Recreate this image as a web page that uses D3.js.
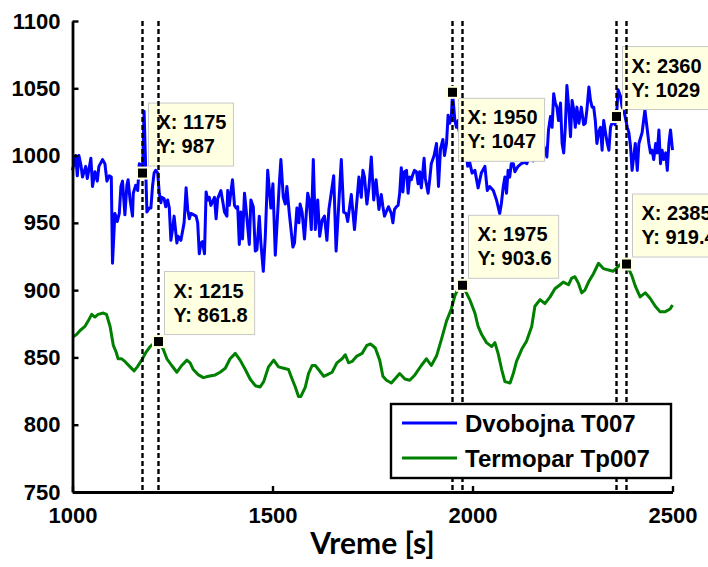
<!DOCTYPE html>
<html>
<head>
<meta charset="utf-8">
<script src="https://d3js.org/d3.v7.min.js"></script>
<style>
    html, body { margin: 0; padding: 0; background: #fff; }
    svg { display: block; }
</style>
</head>
<body>
<div id="chart"></div>
<script>
"use strict";

// Time [s] / temperature pairs
const dvobojnaT007 = [
    [1000, 989], [1008, 1000], [1012, 985], [1016, 1000], [1021, 993], [1025, 984], [1033, 992], [1037, 983],
    [1046, 998], [1050, 977], [1056, 988], [1062, 981], [1066, 992], [1075, 997], [1081, 994], [1086, 981],
    [1092, 985], [1097, 984], [1100, 920], [1106, 957], [1112, 951], [1117, 957], [1121, 977], [1125, 981],
    [1131, 956], [1136, 978], [1139, 982], [1144, 967], [1150, 955], [1152, 972], [1158, 978], [1163, 974],
    [1167, 994], [1171, 993], [1175, 987], [1179, 1033], [1186, 958], [1192, 961], [1196, 961], [1200, 977],
    [1204, 987], [1208, 989], [1213, 987], [1217, 972], [1221, 965], [1223, 969], [1229, 968], [1233, 962],
    [1238, 967], [1242, 961], [1246, 937], [1250, 945], [1254, 955], [1261, 935], [1264, 940], [1271, 937],
    [1279, 950], [1284, 976], [1288, 960], [1292, 953], [1296, 957], [1309, 955], [1313, 950], [1317, 927],
    [1321, 935], [1325, 936], [1330, 927], [1334, 973], [1338, 967], [1342, 969], [1346, 963], [1355, 969],
    [1359, 953], [1363, 968], [1371, 974], [1375, 967], [1380, 958], [1386, 955], [1388, 974], [1392, 963],
    [1396, 973], [1400, 982], [1405, 963], [1409, 961], [1413, 962], [1417, 934], [1421, 958], [1425, 938],
    [1430, 972], [1434, 960], [1442, 934], [1446, 967], [1452, 962], [1457, 929], [1461, 930], [1467, 955],
    [1471, 935], [1477, 914], [1482, 940], [1488, 989], [1496, 961], [1501, 979], [1507, 926], [1517, 979],
    [1521, 997], [1527, 969], [1532, 964], [1536, 977], [1542, 957], [1551, 932], [1555, 935], [1561, 961],
    [1566, 950], [1569, 964], [1574, 958], [1580, 938], [1588, 972], [1592, 967], [1597, 945], [1602, 997],
    [1607, 945], [1613, 967], [1618, 940], [1624, 952], [1630, 955], [1636, 937], [1641, 960], [1653, 985],
    [1659, 929], [1672, 997], [1678, 958], [1684, 957], [1688, 951], [1697, 971], [1705, 945], [1716, 984],
    [1722, 969], [1726, 989], [1730, 984], [1736, 964], [1741, 976], [1747, 999], [1753, 967], [1759, 982],
    [1766, 960], [1772, 971], [1776, 962], [1780, 955], [1784, 958], [1790, 962], [1797, 957], [1801, 950],
    [1805, 960], [1810, 962], [1814, 963], [1818, 972], [1822, 991], [1826, 973], [1830, 988], [1835, 989],
    [1839, 972], [1843, 984], [1847, 982], [1851, 986], [1855, 989], [1860, 988], [1864, 979], [1868, 988],
    [1872, 976], [1879, 998], [1882, 983], [1889, 972], [1893, 982], [1897, 994], [1904, 1000], [1910, 1009],
    [1915, 977], [1920, 1005], [1926, 1012], [1930, 1000], [1935, 1009], [1939, 1030], [1943, 1024], [1947, 1028],
    [1950, 1047], [1956, 1026], [1960, 1021], [1964, 1026], [1966, 1019], [1972, 1012], [1978, 998], [1984, 1004],
    [1988, 992], [1993, 995], [1999, 987], [2006, 989], [2014, 976], [2022, 987], [2031, 992], [2037, 974],
    [2043, 977], [2052, 974], [2060, 967], [2068, 957], [2072, 964], [2077, 977], [2081, 984], [2085, 972],
    [2089, 989], [2093, 984], [2097, 994], [2102, 994], [2106, 988], [2114, 992], [2122, 994], [2131, 995],
    [2136, 994], [2145, 1002], [2152, 996], [2160, 1004], [2168, 998], [2174, 1010], [2178, 1007], [2182, 1004],
    [2186, 999], [2190, 1019], [2195, 1029], [2199, 1021], [2203, 1046], [2207, 1039], [2211, 1036], [2215, 1026],
    [2220, 1039], [2224, 1009], [2228, 1002], [2232, 1021], [2236, 1052], [2241, 1034], [2245, 1014], [2249, 1041],
    [2253, 1034], [2257, 1021], [2261, 1036], [2266, 1024], [2272, 1036], [2278, 1023], [2282, 1024], [2286, 1034],
    [2291, 1051], [2295, 1041], [2299, 1036], [2303, 1036], [2307, 1026], [2311, 1009], [2316, 1018], [2320, 1021],
    [2324, 1004], [2328, 1026], [2332, 1018], [2337, 1009], [2341, 1004], [2345, 1021], [2351, 1026], [2356, 1023],
    [2360, 1029], [2364, 1049], [2370, 1044], [2374, 1036], [2378, 1034], [2387, 1021], [2391, 1017], [2395, 1007],
    [2399, 989], [2403, 999], [2407, 1009], [2412, 989], [2416, 1009], [2424, 1017], [2431, 1034], [2437, 1019],
    [2441, 1009], [2445, 1002], [2449, 1004], [2453, 997], [2458, 1009], [2462, 1002], [2466, 1019], [2470, 994],
    [2474, 1004], [2478, 997], [2483, 1002], [2487, 989], [2491, 1009], [2495, 1019], [2500, 1004]
];

const termoparTp007 = [
    [1000, 865], [1010, 867], [1019, 870], [1031, 873], [1039, 877], [1048, 882], [1056, 880], [1064, 882],
    [1077, 883], [1085, 882], [1094, 873], [1102, 859], [1109, 854], [1114, 849], [1123, 849], [1131, 847],
    [1144, 843], [1154, 840], [1162, 843], [1173, 848], [1184, 854], [1194, 858], [1202, 860], [1215, 861.8],
    [1227, 856], [1236, 849], [1248, 844], [1261, 839], [1273, 844], [1286, 848], [1294, 846], [1302, 841],
    [1315, 837], [1327, 835], [1340, 836], [1357, 837], [1369, 839], [1382, 842], [1394, 849], [1407, 853],
    [1419, 848], [1432, 841], [1444, 834], [1457, 829], [1469, 828], [1478, 832], [1490, 843], [1503, 848],
    [1515, 843], [1528, 842], [1540, 841], [1549, 834], [1557, 828], [1565, 821], [1571, 821], [1582, 828],
    [1590, 838], [1599, 844], [1607, 844], [1615, 841], [1628, 836], [1636, 837], [1649, 839], [1661, 846],
    [1674, 849], [1682, 852], [1690, 846], [1699, 847], [1711, 851], [1724, 853], [1736, 859], [1745, 860],
    [1757, 857], [1768, 848], [1776, 836], [1785, 833], [1797, 831], [1806, 834], [1818, 838], [1831, 834],
    [1843, 833], [1856, 837], [1872, 844], [1885, 849], [1897, 844], [1910, 851], [1922, 863], [1935, 877],
    [1947, 886], [1956, 896], [1964, 901], [1975, 903.6], [1983, 899], [1993, 893], [2006, 883], [2014, 873],
    [2023, 867], [2035, 861], [2048, 858], [2056, 861], [2064, 853], [2073, 841], [2081, 832], [2094, 831],
    [2102, 838], [2110, 847], [2123, 856], [2135, 862], [2148, 873], [2156, 888], [2169, 893], [2181, 890],
    [2194, 895], [2206, 901], [2219, 904], [2227, 906], [2240, 904], [2248, 909], [2256, 910], [2265, 905],
    [2273, 898], [2281, 900], [2290, 906], [2302, 912], [2315, 920], [2327, 916], [2340, 915], [2352, 914],
    [2369, 919], [2385, 919.4], [2398, 911], [2407, 903], [2419, 895], [2432, 898], [2444, 894], [2457, 888],
    [2469, 884], [2482, 884], [2494, 886], [2500, 889]
];

// Data cursor readouts
const tipTimes = [1175, 1215, 1950, 1975, 2360, 2385];
const tipValues = [987, 861.8, 1047, 903.6, 1029, 919.4];

const xTicks = [1000, 1500, 2000, 2500];
const yTicks = [750, 800, 850, 900, 950, 1000, 1050, 1100];
const seriesNames = ["Dvobojna T007", "Termopar Tp007"];
const xLabel = "Vreme [s]";

const WIDTH = 708;
const HEIGHT = 567;
const PLOT = { left: 72.5, right: 672.5, top: 21, bottom: 492 };
const COLORS = { blue: "#0000ff", green: "#008000", tipFill: "#ffffe1", tipBorder: "#c8c8c8" };
const ARIAL = "'Liberation Sans', Arial, sans-serif";

const svg = d3.select("#chart")
    .append("svg")
    .attr("width", WIDTH)
    .attr("height", HEIGHT)
    .style("background", "#fff");

const scale = {
    x: d3.scaleLinear().domain([1000, 2500]).range([PLOT.left, PLOT.right]),
    y: d3.scaleLinear().domain([750, 1100]).range([PLOT.bottom, PLOT.top])
};

const line = d3.line()
    .x((d) => scale.x(d[0]))
    .y((d) => scale.y(d[1]));

// Series
[[dvobojnaT007, COLORS.blue], [termoparTp007, COLORS.green]].forEach(([data, color]) => {
    svg.append("path")
        .datum(data)
        .attr("d", line)
        .attr("fill", "none")
        .attr("stroke", color)
        .attr("stroke-width", 3)
        .attr("stroke-linejoin", "round");
});

// Axes: left and bottom only, ticks pointing inward
const xAxis = d3.axisBottom(scale.x)
    .tickValues(xTicks)
    .tickFormat(d3.format("d"))
    .tickSizeInner(-6)
    .tickSizeOuter(0)
    .tickPadding(15);
const yAxis = d3.axisLeft(scale.y)
    .tickValues(yTicks)
    .tickFormat(d3.format("d"))
    .tickSizeInner(-6)
    .tickSizeOuter(0)
    .tickPadding(12);

const styleAxis = (g) => {
    g.select(".domain").attr("stroke", "#000").attr("stroke-width", 2.8);
    g.selectAll(".tick line").attr("stroke", "#000").attr("stroke-width", 2.4);
    g.selectAll(".tick text")
        .attr("fill", "#000")
        .style("font-family", ARIAL)
        .style("font-weight", "bold")
        .style("font-size", "22px");
};

svg.append("g")
    .attr("transform", `translate(0,${PLOT.bottom})`)
    .call(xAxis)
    .call(styleAxis);
svg.append("g")
    .attr("transform", `translate(${PLOT.left},0)`)
    .call(yAxis)
    .call(styleAxis);

svg.append("text")
    .attr("x", (PLOT.left + PLOT.right) / 2)
    .attr("y", 554)
    .attr("text-anchor", "middle")
    .style("font-family", "Lato, 'Open Sans', sans-serif")
    .style("font-weight", "bold")
    .style("font-size", "30px")
    .text(xLabel);

// Data tip boxes (drawn under the cursor lines)
const tipBelow = new Set([1950]);
const tipGroup = svg.append("g");
tipTimes.forEach((t, i) => {
    const mx = scale.x(t);
    const my = scale.y(tipValues[i]);
    const g = tipGroup.append("g");
    const rect = g.append("rect")
        .attr("fill", COLORS.tipFill)
        .attr("stroke", COLORS.tipBorder)
        .attr("stroke-width", 1);
    const lines = [`X: ${t}`, `Y: ${tipValues[i]}`];
    const texts = lines.map((s, k) =>
        g.append("text")
            .attr("y", 26 + k * 24)
            .attr("x", 9)
            .style("font-family", ARIAL)
            .style("font-weight", "bold")
            .style("font-size", "20px")
            .attr("fill", "#000")
            .text(s)
    );
    const w = d3.max(texts, (tx) => tx.node().getComputedTextLength()) + 16;
    const h = 63;
    rect.attr("width", w).attr("height", h);
    const bx = mx + 6;
    const by = tipBelow.has(t) ? my + 6 : my - 7 - h;
    g.attr("transform", `translate(${bx},${by})`);
});

// Vertical cursor lines
svg.append("g")
    .selectAll("line")
    .data(tipTimes)
    .enter()
    .append("line")
    .attr("x1", (d) => scale.x(d))
    .attr("x2", (d) => scale.x(d))
    .attr("y1", PLOT.top)
    .attr("y2", PLOT.bottom)
    .attr("stroke", "#000")
    .attr("stroke-width", 2.4)
    .attr("stroke-dasharray", "5,3");

// Data tip markers
svg.append("g")
    .selectAll("rect")
    .data(tipTimes.map((t, i) => [t, tipValues[i]]))
    .enter()
    .append("rect")
    .attr("x", (d) => scale.x(d[0]) - 5.5)
    .attr("y", (d) => scale.y(d[1]) - 5.5)
    .attr("width", 11)
    .attr("height", 11)
    .attr("fill", "#000")
    .attr("stroke", COLORS.tipFill)
    .attr("stroke-width", 2);

// Legend
const legend = svg.append("g").attr("transform", "translate(391,404)");
legend.append("rect")
    .attr("width", 280)
    .attr("height", 74)
    .attr("fill", "#fff")
    .attr("stroke", "#000")
    .attr("stroke-width", 2.4);
[COLORS.blue, COLORS.green].forEach((color, i) => {
    const cy = 19 + i * 35;
    legend.append("line")
        .attr("x1", 11)
        .attr("x2", 66)
        .attr("y1", cy)
        .attr("y2", cy)
        .attr("stroke", color)
        .attr("stroke-width", 3);
    legend.append("text")
        .attr("x", 74)
        .attr("y", cy + 9)
        .style("font-family", ARIAL)
        .style("font-weight", "bold")
        .style("font-size", "24px")
        .attr("fill", "#000")
        .text(seriesNames[i]);
});
</script>
</body>
</html>
